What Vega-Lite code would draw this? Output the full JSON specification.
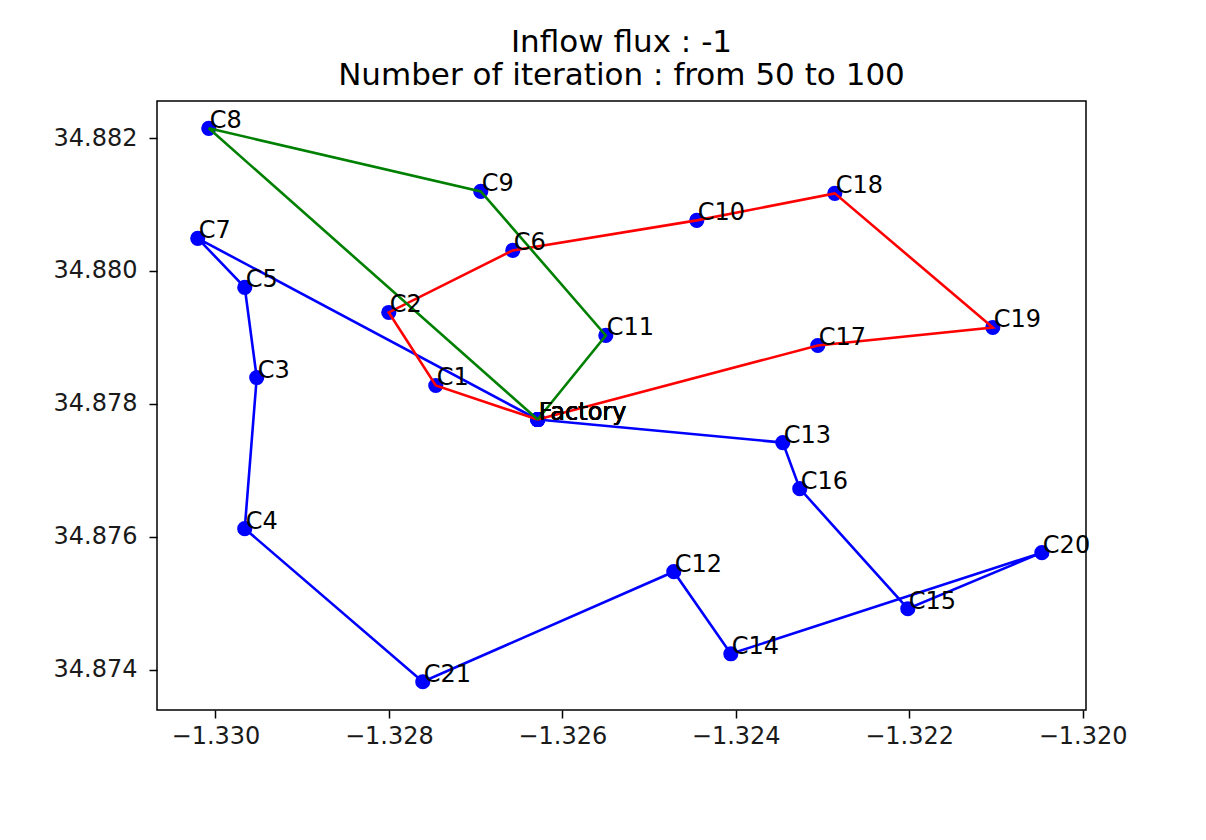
{
  "$schema": "https://vega.github.io/schema/vega-lite/v6.json",
  "width": 929,
  "height": 609,
  "autosize": {"type": "none"},
  "padding": {"left": 157, "top": 101, "right": 120, "bottom": 130},
  "background": "white",
  "title": {
    "text": ["Inflow flux : -1", "Number of iteration : from 50 to 100"],
    "font": "DejaVu Sans",
    "fontSize": 31,
    "fontWeight": "normal",
    "color": "black",
    "lineHeight": 33,
    "anchor": "middle",
    "offset": 9
  },
  "datasets": {
    "stops": [
      {"route": "blue", "seq": 0, "name": "Factory", "lon": -1.326283, "lat": 34.877764},
      {"route": "blue", "seq": 1, "name": "C7", "lon": -1.330204, "lat": 34.880490},
      {"route": "blue", "seq": 2, "name": "C5", "lon": -1.329662, "lat": 34.879752},
      {"route": "blue", "seq": 3, "name": "C3", "lon": -1.329524, "lat": 34.878396},
      {"route": "blue", "seq": 4, "name": "C4", "lon": -1.329662, "lat": 34.876122},
      {"route": "blue", "seq": 5, "name": "C21", "lon": -1.327609, "lat": 34.873818},
      {"route": "blue", "seq": 6, "name": "C12", "lon": -1.324714, "lat": 34.875474},
      {"route": "blue", "seq": 7, "name": "C14", "lon": -1.324056, "lat": 34.874239},
      {"route": "blue", "seq": 8, "name": "C20", "lon": -1.320469, "lat": 34.875761},
      {"route": "blue", "seq": 9, "name": "C15", "lon": -1.322015, "lat": 34.874917},
      {"route": "blue", "seq": 10, "name": "C16", "lon": -1.323261, "lat": 34.876724},
      {"route": "blue", "seq": 11, "name": "C13", "lon": -1.323457, "lat": 34.877417},
      {"route": "blue", "seq": 12, "name": "Factory", "lon": -1.326283, "lat": 34.877764},
      {"route": "red", "seq": 0, "name": "Factory", "lon": -1.326283, "lat": 34.877764},
      {"route": "red", "seq": 1, "name": "C1", "lon": -1.327459, "lat": 34.878276},
      {"route": "red", "seq": 2, "name": "C2", "lon": -1.328001, "lat": 34.879375},
      {"route": "red", "seq": 3, "name": "C6", "lon": -1.326571, "lat": 34.880309},
      {"route": "red", "seq": 4, "name": "C10", "lon": -1.324449, "lat": 34.880761},
      {"route": "red", "seq": 5, "name": "C18", "lon": -1.322857, "lat": 34.881167},
      {"route": "red", "seq": 6, "name": "C19", "lon": -1.321035, "lat": 34.879149},
      {"route": "red", "seq": 7, "name": "C17", "lon": -1.323053, "lat": 34.878878},
      {"route": "red", "seq": 8, "name": "Factory", "lon": -1.326283, "lat": 34.877764},
      {"route": "green", "seq": 0, "name": "Factory", "lon": -1.326283, "lat": 34.877764},
      {"route": "green", "seq": 1, "name": "C11", "lon": -1.325498, "lat": 34.879029},
      {"route": "green", "seq": 2, "name": "C9", "lon": -1.326940, "lat": 34.881197},
      {"route": "green", "seq": 3, "name": "C8", "lon": -1.330077, "lat": 34.882146},
      {"route": "green", "seq": 4, "name": "Factory", "lon": -1.326283, "lat": 34.877764}
    ]
  },
  "data": {"name": "stops"},
  "encoding": {
    "x": {
      "field": "lon",
      "type": "quantitative",
      "scale": {"domain": [-1.330674, -1.31996], "nice": false, "zero": false},
      "axis": {
        "title": null,
        "values": [-1.330, -1.328, -1.326, -1.324, -1.322, -1.320],
        "format": ".3f",
        "grid": false,
        "domain": false,
        "tickSize": 8,
        "tickWidth": 1.5,
        "tickColor": "black",
        "labelFont": "DejaVu Sans",
        "labelFontSize": 24,
        "labelColor": "#1a1a1a",
        "labelPadding": 6,
        "labelFlush": false,
        "labelOverlap": false
      }
    },
    "y": {
      "field": "lat",
      "type": "quantitative",
      "scale": {"domain": [34.873393, 34.882557], "nice": false, "zero": false},
      "axis": {
        "title": null,
        "values": [34.874, 34.876, 34.878, 34.880, 34.882],
        "format": ".3f",
        "grid": false,
        "domain": false,
        "tickSize": 8,
        "tickWidth": 1.5,
        "tickColor": "black",
        "labelFont": "DejaVu Sans",
        "labelFontSize": 24,
        "labelColor": "#1a1a1a",
        "labelPadding": 12,
        "labelFlush": false,
        "labelOverlap": false
      }
    }
  },
  "layer": [
    {
      "mark": {"type": "circle", "size": 230, "color": "#0000ff", "opacity": 1}
    },
    {
      "transform": [{"filter": "datum.route === 'blue'"}],
      "mark": {"type": "line", "color": "#0000ff", "strokeWidth": 2.6},
      "encoding": {"order": {"field": "seq", "type": "quantitative"}}
    },
    {
      "transform": [{"filter": "datum.route === 'red'"}],
      "mark": {"type": "line", "color": "#ff0000", "strokeWidth": 2.6},
      "encoding": {"order": {"field": "seq", "type": "quantitative"}}
    },
    {
      "transform": [{"filter": "datum.route === 'green'"}],
      "mark": {"type": "line", "color": "#008000", "strokeWidth": 2.6},
      "encoding": {"order": {"field": "seq", "type": "quantitative"}}
    },
    {
      "mark": {
        "type": "text",
        "align": "left",
        "baseline": "alphabetic",
        "dx": 1,
        "font": "DejaVu Sans",
        "fontSize": 24,
        "color": "black"
      },
      "encoding": {"text": {"field": "name", "type": "nominal"}}
    }
  ],
  "config": {
    "font": "DejaVu Sans",
    "view": {"stroke": "black", "strokeWidth": 1.5}
  }
}
